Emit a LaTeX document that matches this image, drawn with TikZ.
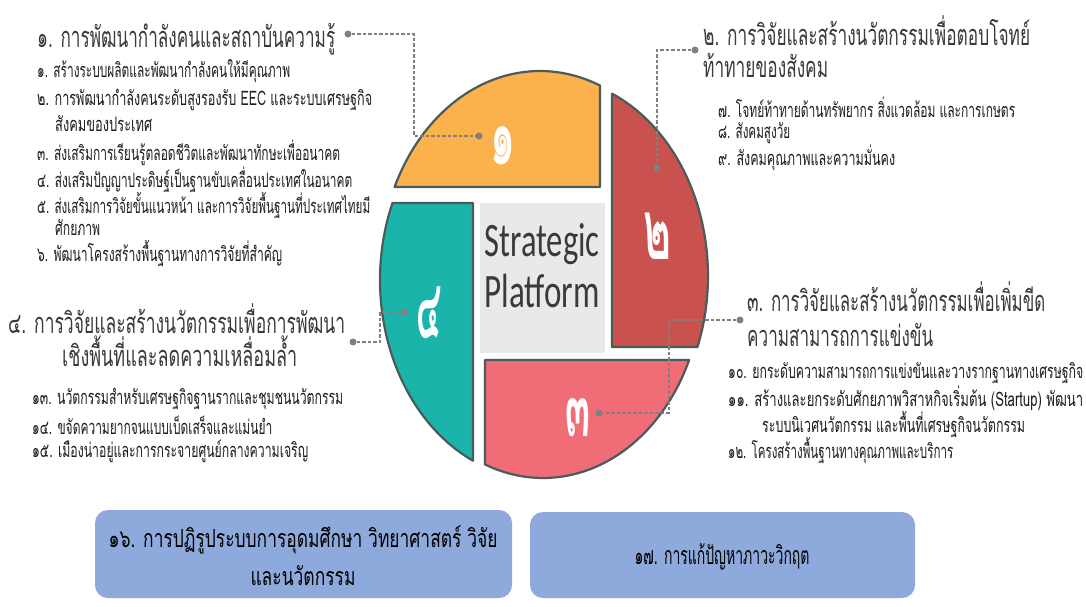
\documentclass[tikz,border=0pt]{standalone}
\usepackage{fontspec}
\usepackage{graphicx}
\newfontfamily\thai[Script=Thai]{Loma}
\newfontfamily\latf{Carlito}
\newcommand{\fw}[2]{\resizebox{#1pt}{\height}{#2}}
\definecolor{orng}{HTML}{FBB24C}
\definecolor{redd}{HTML}{C9524F}
\definecolor{pink}{HTML}{F06D78}
\definecolor{teal}{HTML}{1BB4AB}
\definecolor{edge}{HTML}{4A5B5B}
\definecolor{cgray}{HTML}{E8E9EB}
\definecolor{conn}{HTML}{808080}
\definecolor{boxb}{HTML}{8EA9DB}
\definecolor{ttl}{HTML}{3A3A3A}
\definecolor{itm}{HTML}{1E1E1E}
\tikzset{
  piece/.style={draw=edge, line width=2.2pt, line join=round},
  ttlt/.style={anchor=west, inner sep=0pt, text=ttl, font=\thai\fontsize{29}{32}\selectfont},
  itmt/.style={anchor=west, inner sep=0pt, text=itm, font=\thai\fontsize{20}{23}\selectfont},
  digit/.style={text=white, inner sep=0pt, font=\thai\bfseries\fontsize{84}{88}\selectfont},
  dotn/.style={circle, fill=conn, inner sep=0pt, minimum size=7pt},
  conline/.style={draw=conn, line width=1.2pt, dash pattern=on 3.5pt off 2pt},
  bluebox/.style={fill=boxb, rounded corners=13pt},
  boxt/.style={inner sep=0pt, text=black, font=\thai\fontsize{25}{28}\selectfont},
}
\begin{document}
\begin{tikzpicture}[x=1pt,y=-1pt]
\useasboundingbox (0,0) rectangle (1086,606);
\fill[white] (0,0) rectangle (1086,606);
% pieces
\draw[piece, fill=orng] (600,187) -- (394.6,187)
  -- plot[domain=204.65:292.02, samples=60] ({540+160*cos(\x)},{270+199*sin(\x)}) -- cycle;
\draw[piece, fill=redd] (612,347) -- (612,93.6)
  -- plot[domain=-66.42:20.9, samples=60] ({548+160*cos(\x)},{276+199*sin(\x)}) -- cycle;
\draw[piece, fill=pink] (485,360) -- (689.1,360)
  -- plot[domain=24.02:111.25, samples=60] ({543+160*cos(\x)},{279+199*sin(\x)}) -- cycle;
\draw[piece, fill=teal] (473,203) -- (392.5,203)
  -- plot[domain=202.77:114.76, samples=60] ({540+160*cos(\x)},{280+199*sin(\x)}) -- cycle;
\fill[cgray] (480,203) rectangle (605,353);
\node[inner sep=0pt, text=ttl, font=\latf\fontsize{48}{50}\selectfont] (sp1) at (542,244) {\fw{115}{Strategic}};
\node[inner sep=0pt, text=ttl, font=\latf\fontsize{48}{50}\selectfont] (sp2) at (542,291) {\fw{115}{Platform}};
% digits
\node[digit] (n1) at (503,146) {\fw{25}{๑}};
\node[digit] (n2) at (657,236) {\fw{28}{๒}};
\node[digit] (n3) at (578,418) {\fw{25}{๓}};
\node[digit] (n4) at (429,313) {\fw{25}{๔}};
% group 1 text
\node[ttlt] (t1) at (37,39) {\fw{298}{๑. การพัฒนากำลังคนและสถาบันความรู้}};
\node[itmt] (i1) at (37,71) {\fw{253}{๑. สร้างระบบผลิตและพัฒนากำลังคนให้มีคุณภาพ}};
\node[itmt] (i2) at (37,100) {\fw{335}{๒. การพัฒนากำลังคนระดับสูงรองรับ  EEC และระบบเศรษฐกิจ}};
\node[itmt] (i2b) at (55,124) {\fw{97}{สังคมของประเทศ}};
\node[itmt] (i3) at (37,153) {\fw{303}{๓. ส่งเสริมการเรียนรู้ตลอดชีวิตและพัฒนาทักษะเพื่ออนาคต}};
\node[itmt] (i4) at (37,180) {\fw{315}{๔. ส่งเสริมปัญญาประดิษฐ์เป็นฐานขับเคลื่อนประเทศในอนาคต}};
\node[itmt] (i5) at (37,205) {\fw{333}{๕. ส่งเสริมการวิจัยขั้นแนวหน้า และการวิจัยพื้นฐานที่ประเทศไทยมี}};
\node[itmt] (i5b) at (55,228) {\fw{45}{ศักยภาพ}};
\node[itmt] (i6) at (37,253) {\fw{245}{๖. พัฒนาโครงสร้างพื้นฐานทางการวิจัยที่สำคัญ}};
% group 2 text
\node[ttlt] (t2a) at (703,31) {\fw{327}{๒. การวิจัยและสร้างนวัตกรรมเพื่อตอบโจทย์}};
\node[ttlt] (t2b) at (703,65) {\fw{125}{ท้าทายของสังคม}};
\node[itmt] (i7) at (718,107) {\fw{297}{๗. โจทย์ท้าทายด้านทรัพยากร สิ่งแวดล้อม และการเกษตร}};
\node[itmt] (i8) at (718,133) {\fw{72}{๘. สังคมสูงวัย}};
\node[itmt] (i9) at (718,158) {\fw{177}{๙. สังคมคุณภาพและความมั่นคง}};
% group 3 text
\node[ttlt] (t3a) at (747,297) {\fw{298}{๓. การวิจัยและสร้างนวัตกรรมเพื่อเพิ่มขีด}};
\node[ttlt] (t3b) at (747,335) {\fw{186}{ความสามารถการแข่งขัน}};
\node[itmt] (i10) at (728,373) {\fw{355}{๑๐. ยกระดับความสามารถการแข่งขันและวางรากฐานทางเศรษฐกิจ}};
\node[itmt] (i11) at (728,398) {\fw{355}{๑๑. สร้างและยกระดับศักยภาพวิสาหกิจเริ่มต้น (Startup) พัฒนา}};
\node[itmt] (i11b) at (762,424) {\fw{263}{ระบบนิเวศนวัตกรรม และพื้นที่เศรษฐกิจนวัตกรรม}};
\node[itmt] (i12) at (728,451) {\fw{225}{๑๒. โครงสร้างพื้นฐานทางคุณภาพและบริการ}};
% group 4 text
\node[ttlt] (t4a) at (8,319) {\fw{337}{๔. การวิจัยและสร้างนวัตกรรมเพื่อการพัฒนา}};
\node[ttlt] (t4b) at (62,351) {\fw{235}{เชิงพื้นที่และลดความเหลื่อมล้ำ}};
\node[itmt] (i13) at (32,399) {\fw{311}{๑๓. นวัตกรรมสำหรับเศรษฐกิจฐานรากและชุมชนนวัตกรรม}};
\node[itmt] (i14) at (32,425) {\fw{240}{๑๔. ขจัดความยากจนแบบเบ็ดเสร็จและแม่นยำ}};
\node[itmt] (i15) at (32,451) {\fw{276}{๑๕.  เมืองน่าอยู่และการกระจายศูนย์กลางความเจริญ}};
% connectors
\node[dotn] (d1a) at (348,34) {};
\node[dotn] (d1b) at (479,136) {};
\coordinate (c1a) at (414,34);
\coordinate (c1b) at (414,136);
\draw[conline] (d1a) -- (c1a) -- (c1b) -- (d1b);
\node[dotn] (d2a) at (695,50) {};
\node[dotn] (d2b) at (657,168) {};
\coordinate (c2a) at (657,50);
\draw[conline] (d2a) -- (c2a) -- (d2b);
\node[dotn] (d3a) at (740,320) {};
\node[dotn] (d3b) at (599,413) {};
\coordinate (c3a) at (669,320);
\coordinate (c3b) at (669,413);
\draw[conline] (d3a) -- (c3a) -- (c3b) -- (d3b);
\node[dotn] (d4a) at (353,342) {};
\node[dotn] (d4b) at (404,312) {};
\coordinate (c4a) at (380,342);
\coordinate (c4b) at (380,312);
\draw[conline] (d4a) -- (c4a) -- (c4b) -- (d4b);
% bottom boxes
\path[bluebox] (95,510) rectangle (512,598);
\path[bluebox] (530,512) rectangle (915,598);
\node[boxt] (b16a) at (303,540) {\fw{389}{๑๖. การปฏิรูประบบการอุดมศึกษา วิทยาศาสตร์ วิจัย}};
\node[boxt] (b16b) at (303,576) {\fw{105}{และนวัตกรรม}};
\node[boxt] (b17) at (722,557) {\fw{175}{๑๗. การแก้ปัญหาภาวะวิกฤต}};
\end{tikzpicture}
\end{document}
